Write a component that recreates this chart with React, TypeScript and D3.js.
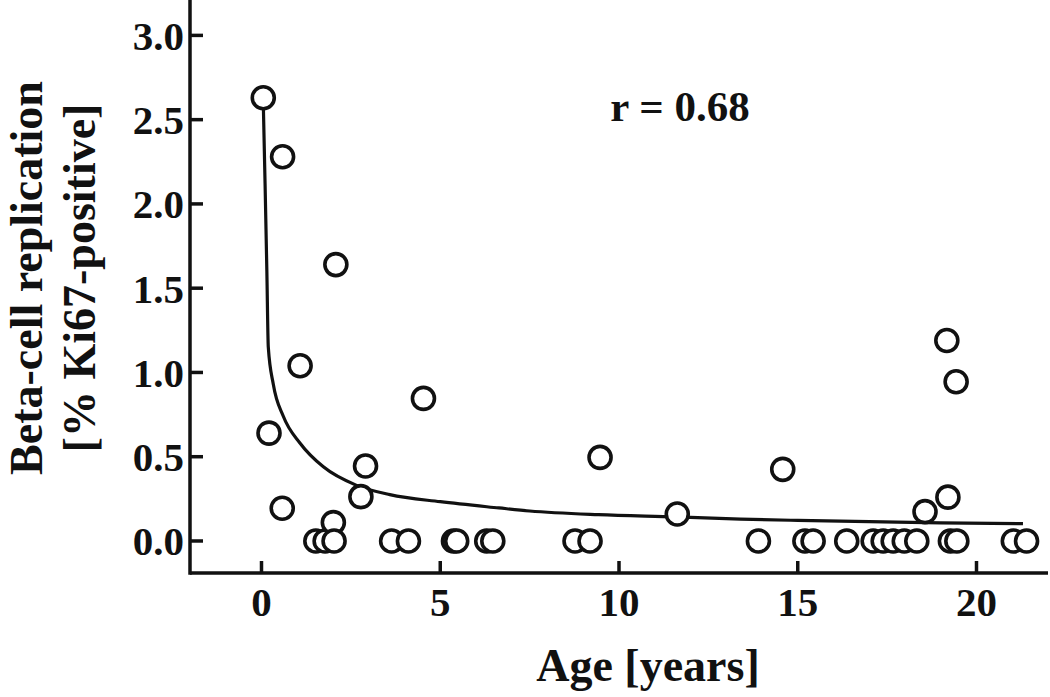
import React from "react";
import * as d3 from "d3";

// age (years) and beta-cell replication (% Ki67-positive)
const AGES = [
  0.05, 0.21, 0.58, 0.59, 1.08, 1.52, 1.78, 2.01, 2.03, 2.08, 2.78, 2.91, 3.64, 4.11, 4.53,
  5.37, 5.46, 6.3, 6.47, 8.77, 9.19, 9.47, 11.63, 13.9, 14.58, 15.2, 15.43, 16.37, 17.11,
  17.39, 17.67, 17.98, 18.33, 18.56, 19.17, 19.2, 19.27, 19.43, 19.45, 21.03, 21.4,
];
const REPLICATION = [
  2.63, 0.64, 0.194, 2.28, 1.04, 0, 0, 0.109, 0, 1.64, 0.263, 0.445, 0, 0, 0.846,
  0, 0, 0, 0, 0, 0, 0.496, 0.16, 0, 0.425, 0, 0, 0, 0,
  0, 0, 0, 0, 0.174, 1.19, 0.26, 0, 0.945, 0, 0, 0,
];

// fitted curve, sampled from the figure
const FIT_AGE = [0.05, 0.1, 0.15, 0.19, 0.33, 0.61, 1.08, 1.73, 2.66, 3.59, 5.0, 6.64, 7.5, 9.42, 11.6, 13.4, 15.0, 17.0, 19.0, 21.3];
const FIT_VALUE = [2.6, 2.12, 1.6, 1.15, 0.93, 0.74, 0.58, 0.44, 0.33, 0.275, 0.233, 0.196, 0.178, 0.156, 0.143, 0.13, 0.122, 0.115, 0.108, 0.103];

const X_TICKS = [0, 5, 10, 15, 20];
const Y_TICKS = [0, 0.5, 1, 1.5, 2, 2.5, 3];

const W = 1050;
const H = 697;
const FONT = "'Liberation Serif', 'Times New Roman', serif";

export default function App() {
  const x = d3.scaleLinear().domain([-2, 22]).range([190, 1048]);
  const y = d3.scaleLinear().domain([-0.19, 3.21]).range([573, 0]);

  const fit = d3
    .line<number>()
    .x((_, i) => x(FIT_AGE[i]))
    .y((d) => y(d))
    .curve(d3.curveMonotoneX)(FIT_VALUE);

  const x0 = x.range()[0];
  const y0 = y.range()[0];

  return (
    <>
      <style>{`body{margin:0}`}</style>
      <svg width={W} height={H} style={{ display: "block", background: "#fff" }} fontFamily={FONT} fontWeight="bold">
        {/* axes */}
        <line x1={x0} x2={x0} y1={0} y2={y0 + 1.75} stroke="#111" strokeWidth={3.5} />
        <line x1={x0} x2={x.range()[1]} y1={y0} y2={y0} stroke="#111" strokeWidth={3.5} />
        {Y_TICKS.map((t) => (
          <g key={"y" + t}>
            <line x1={x0} x2={x0 + 13} y1={y(t)} y2={y(t)} stroke="#111" strokeWidth={3.5} />
            <text x={x0 - 6} y={y(t)} dy="0.35em" textAnchor="end" fontSize={41} fill="#111">
              {d3.format(".1f")(t)}
            </text>
          </g>
        ))}
        {X_TICKS.map((t) => (
          <g key={"x" + t}>
            <line x1={x(t)} x2={x(t)} y1={y0} y2={y0 - 12} stroke="#111" strokeWidth={3.5} />
            <text x={x(t)} y={616} textAnchor="middle" fontSize={41} fill="#111">
              {t}
            </text>
          </g>
        ))}

        {/* titles */}
        <text x={648} y={681} textAnchor="middle" fontSize={46} fill="#111">
          Age [years]
        </text>
        <g transform="translate(42,278) rotate(-90)">
          <text x={0} y={0} textAnchor="middle" fontSize={46} fill="#111">
            Beta-cell replication
          </text>
          <text x={0} y={53} textAnchor="middle" fontSize={46} fill="#111">
            [% Ki67-positive]
          </text>
        </g>

        {/* fit and points */}
        <path d={fit ?? ""} fill="none" stroke="#111" strokeWidth={3.2} />
        {AGES.map((a, i) => (
          <circle key={i} cx={x(a)} cy={y(REPLICATION[i])} r={11} fill="#fff" stroke="#111" strokeWidth={3.6} />
        ))}

        <text x={680} y={121} textAnchor="middle" fontSize={43} fill="#111">
          r = 0.68
        </text>
      </svg>
    </>
  );
}
